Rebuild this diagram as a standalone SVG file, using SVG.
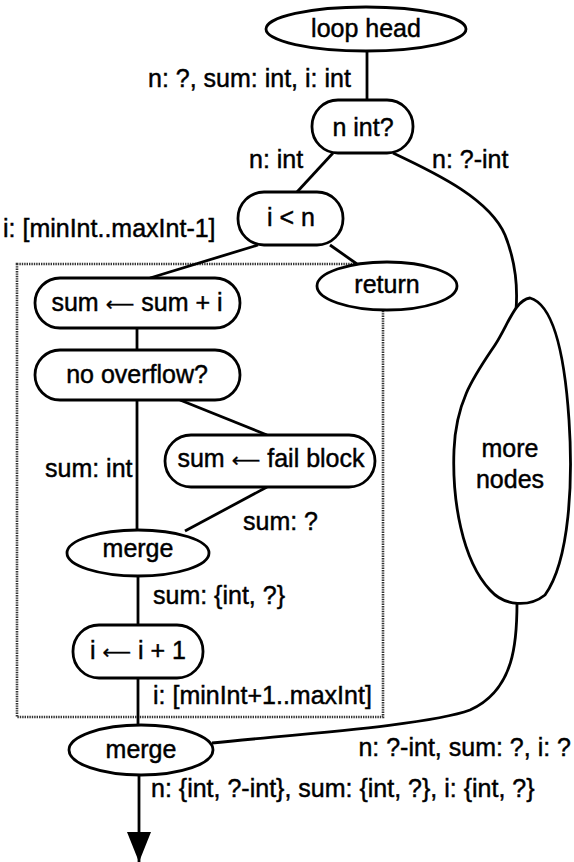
<svg xmlns="http://www.w3.org/2000/svg" width="574" height="862" viewBox="0 0 574 862">
<style>
.n{fill:#fff;stroke:#000;stroke-width:2.8}
.c{fill:none;stroke:#000;stroke-width:2.8}
.t{font-family:"Liberation Sans",Arial,sans-serif;font-size:25px;fill:#000;stroke:#000;stroke-width:0.45}
.m{text-anchor:middle}
.ar{font-family:"DejaVu Sans",sans-serif;font-size:20px;stroke-width:0.3}
.dot{fill:none;stroke:#333;stroke-width:2.6;stroke-dasharray:1.4 1}
</style>
<defs>
<marker id="ah" markerUnits="userSpaceOnUse" markerWidth="30" markerHeight="24" refX="30" refY="12" orient="auto" viewBox="0 0 30 24">
<path d="M0,0 L30,12 L0,24 Z" fill="#000"/>
</marker>
</defs>
<rect width="574" height="862" fill="#fff"/>
<rect id="loop-body" class="dot" x="17" y="264" width="366" height="453"/>
<g id="connectors">
<line class="c" x1="367" y1="51" x2="367" y2="100"/>
<line class="c" x1="333" y1="153" x2="297" y2="192"/>
<path class="c" d="M393,153 C440,175 490,200 505,235 C515,260 518,285 516,310"/>
<line class="c" x1="258" y1="245" x2="150" y2="278"/>
<line class="c" x1="330" y1="245" x2="357" y2="264"/>
<line class="c" x1="137" y1="328" x2="137" y2="350"/>
<line class="c" x1="180" y1="400" x2="267" y2="435"/>
<line class="c" x1="137" y1="400" x2="137" y2="530"/>
<line class="c" x1="267" y1="487" x2="185" y2="531"/>
<line class="c" x1="138" y1="576" x2="138" y2="625"/>
<line class="c" x1="138" y1="678" x2="138" y2="725"/>
<path class="c" d="M517,603 C517,640 515,690 470,710 C430,725 300,734 212,743"/>
<line class="c" x1="139" y1="775" x2="139" y2="862" marker-end="url(#ah)"/>
</g>
<g id="loop-head"><ellipse class="n" cx="366" cy="29" rx="100" ry="22"/><text class="t m" x="366" y="37">loop head</text></g>
<g id="n-int"><rect class="n" x="312" y="100" width="101" height="53" rx="26"/><text class="t m" x="363" y="136">n int?</text></g>
<g id="i-lt-n"><rect class="n" x="238" y="192" width="105" height="53" rx="26"/><text class="t m" x="291" y="226">i &lt; n</text></g>
<g id="return"><ellipse class="n" cx="387" cy="286" rx="70" ry="24"/><text class="t m" x="387" y="293">return</text></g>
<g id="sum-add"><rect class="n" x="35" y="278" width="205" height="50" rx="25"/><text class="t m" x="137" y="311">sum <tspan class="ar">⟵</tspan> sum + i</text></g>
<g id="no-overflow"><rect class="n" x="35" y="350" width="205" height="50" rx="25"/><text class="t m" x="137" y="383">no overflow?</text></g>
<g id="fail-block"><rect class="n" x="165" y="435" width="210" height="52" rx="26"/><text class="t m" x="271" y="467">sum <tspan class="ar">⟵</tspan> fail block</text></g>
<g id="merge-inner"><ellipse class="n" cx="138" cy="553" rx="71" ry="23"/><text class="t m" x="138" y="557">merge</text></g>
<g id="i-inc"><rect class="n" x="73" y="625" width="130" height="53" rx="26"/><text class="t m" x="138" y="659">i <tspan class="ar">⟵</tspan> i + 1</text></g>
<g id="merge-outer"><ellipse class="n" cx="141" cy="750" rx="72" ry="25"/><text class="t m" x="141" y="758">merge</text></g>
<g id="more-nodes"><path class="n" d="M530,298 C555,305 565,360 569,420 C573,480 570,560 545,595 C530,607 505,607 490,590 C462,560 452,500 454,450 C456,400 475,375 495,345 C508,325 515,300 530,298 Z"/><text class="t m" x="510" y="457">more</text><text class="t m" x="510" y="488">nodes</text></g>
<g id="labels">
<text class="t" x="148" y="87">n: ?, sum: int, i: int</text>
<text class="t" x="249" y="168">n: int</text>
<text class="t" x="432" y="168">n: ?-int</text>
<text class="t" x="3" y="237">i: [minInt..maxInt-1]</text>
<text class="t" x="45" y="477">sum: int</text>
<text class="t" x="243" y="530">sum: ?</text>
<text class="t" x="153" y="604">sum: {int, ?}</text>
<text class="t" x="153" y="704">i: [minInt+1..maxInt]</text>
<text class="t" x="571" y="756" text-anchor="end">n: ?-int, sum: ?, i: ?</text>
<text class="t" x="151" y="797">n: {int, ?-int}, sum: {int, ?}, i: {int, ?}</text>
</g>
</svg>
